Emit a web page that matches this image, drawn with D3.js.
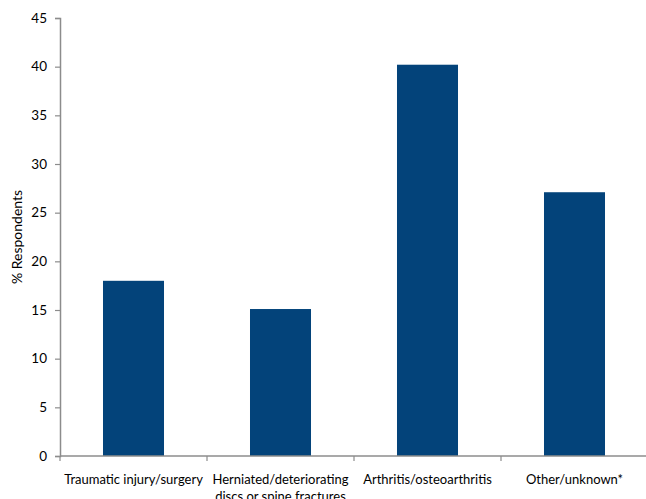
<!DOCTYPE html>
<html>
<head>
<meta charset="utf-8">
<script src="https://cdn.jsdelivr.net/npm/d3@7"></script>
<style>
  html, body { margin: 0; padding: 0; background: #fff; }
  svg { display: block; font-family: Lato, "Open Sans", sans-serif; }
</style>
</head>
<body>
<svg id="chart" width="646" height="499"></svg>
<script>
// Causes of pain, share of respondents (%)
const categories = [
  "Traumatic injury/surgery",
  "Herniated/deteriorating discs or spine fractures",
  "Arthritis/osteoarthritis",
  "Other/unknown*"
];
const values = [18.0, 15.1, 40.2, 27.1];
const yTicks = [0, 5, 10, 15, 20, 25, 30, 35, 40, 45];

const svg = d3.select("#chart");
const margin = { left: 60, top: 18, bottom: 43 };
const plotRight = 648;
const plotBottom = 499 - margin.bottom;

const x = d3.scaleBand().domain(categories).range([margin.left, plotRight]).padding(0);
const y = d3.scaleLinear().domain([0, 45]).range([plotBottom, margin.top]);
const barFrac = 0.415;
const axisColor = "#8c8c8c";

// bars
svg.append("g").selectAll("rect")
  .data(categories)
  .join("rect")
  .attr("x", (d) => x(d) + x.bandwidth() * (1 - barFrac) / 2)
  .attr("width", x.bandwidth() * barFrac)
  .attr("y", (d, i) => y(values[i]))
  .attr("height", (d, i) => y(0) - y(values[i]))
  .attr("fill", "#03437a");

// y axis
const yAxis = svg.append("g")
  .attr("transform", `translate(${margin.left},0)`)
  .call(d3.axisLeft(y).tickValues(yTicks).tickSize(5).tickPadding(8));
yAxis.select(".domain").attr("stroke", axisColor).attr("stroke-width", 1.5);
yAxis.selectAll(".tick line").attr("stroke", axisColor).attr("stroke-width", 1.2);
yAxis.selectAll(".tick text").attr("fill", "#000").attr("font-size", 13.5).attr("font-family", "Lato, sans-serif");

// x axis: ticks at category boundaries
const xAxis = svg.append("g").attr("transform", `translate(0,${plotBottom})`);
xAxis.append("line")
  .attr("x1", margin.left).attr("x2", plotRight)
  .attr("stroke", axisColor).attr("stroke-width", 1.5);
xAxis.selectAll("line.tk")
  .data(categories)
  .join("line")
  .attr("class", "tk")
  .attr("x1", (d) => x(d)).attr("x2", (d) => x(d))
  .attr("y1", 0).attr("y2", 5)
  .attr("stroke", axisColor).attr("stroke-width", 1.2);

// category labels, wrapped to fit each band
const labelLines = [
  ["Traumatic injury/surgery"],
  ["Herniated/deteriorating", "discs or spine fractures"],
  ["Arthritis/osteoarthritis"],
  ["Other/unknown*"]
];
categories.forEach((c, i) => {
  const t = xAxis.append("text")
    .attr("x", x(c) + x.bandwidth() / 2)
    .attr("y", 28)
    .attr("text-anchor", "middle")
    .attr("font-size", 13)
    .attr("fill", "#000");
  labelLines[i].forEach((ln, j) => {
    t.append("tspan").attr("x", x(c) + x.bandwidth() / 2).attr("dy", j === 0 ? 0 : 17).text(ln);
  });
});

// y axis title
svg.append("text")
  .attr("transform", `translate(22,${(margin.top + plotBottom) / 2}) rotate(-90)`)
  .attr("text-anchor", "middle")
  .attr("font-size", 14)
  .attr("fill", "#000")
  .text("% Respondents");
</script>
</body>
</html>
